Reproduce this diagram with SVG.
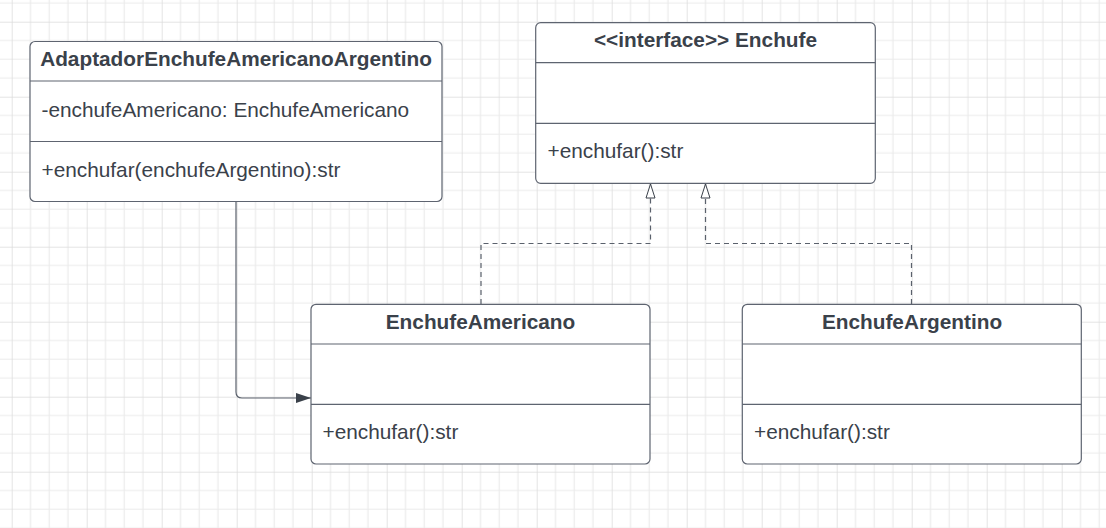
<svg xmlns="http://www.w3.org/2000/svg" width="1106" height="528" viewBox="0 0 1106 528">
<style>
.box{fill:#ffffff;stroke:#5e6470;stroke-width:1.2}
.div{stroke:#5e6470;stroke-width:1.2}
.t{font-family:"Liberation Sans",Arial,sans-serif;font-size:20.8px;fill:#3a414a}
.b{font-weight:bold;text-anchor:middle}
.c{fill:none;stroke:#5a616c;stroke-width:1.2}
.d{stroke-dasharray:5 4}
</style>
<defs>
<pattern id="grid" patternUnits="userSpaceOnUse" x="11.7" y="21.7" width="75" height="75">
<path d="M18.75,0V75M37.5,0V75M56.25,0V75M0,18.75H75M0,37.5H75M0,56.25H75" stroke="#ebebeb" stroke-width="1.2" fill="none"/>
<path d="M0,0V75M0,0H75" stroke="#dcdcdc" stroke-width="1.5" fill="none"/>
</pattern>
<marker id="hollow" markerUnits="userSpaceOnUse" viewBox="-1 -1 16 11" refX="14" refY="4.5" markerWidth="16" markerHeight="11" orient="auto">
<path d="M0,0L14,4.5L0,9Z" fill="#ffffff" stroke="#3a414a" stroke-width="1"/>
</marker>
<marker id="filled" markerUnits="userSpaceOnUse" viewBox="0 0 15 10" refX="15" refY="5" markerWidth="15" markerHeight="10" orient="auto">
<path d="M0,0L15,5L0,10Z" fill="#3a414a"/>
</marker>
</defs>
<rect width="1106" height="528" fill="#ffffff"/>
<rect width="1106" height="528" fill="url(#grid)"/>

<g id="connectors">
<path class="c" d="M236,202V392Q236,398 242,398H311" marker-end="url(#filled)"/>
<path class="c d" d="M481,304V243.5H650.5V184" marker-end="url(#hollow)"/>
<path class="c d" d="M911.5,304V243.5H705.5V184" marker-end="url(#hollow)"/>
</g>

<g id="adaptador">
<rect class="box" x="30" y="41.5" width="412" height="160" rx="5"/>
<line class="div" x1="30" y1="81" x2="442" y2="81"/>
<line class="div" x1="30" y1="141.5" x2="442" y2="141.5"/>
<text class="t b" x="236" y="65.5">AdaptadorEnchufeAmericanoArgentino</text>
<text class="t" x="41.5" y="117">-enchufeAmericano: EnchufeAmericano</text>
<text class="t" x="41.5" y="177">+enchufar(enchufeArgentino):str</text>
</g>

<g id="enchufe">
<rect class="box" x="535.7" y="22.7" width="339.6" height="160.6" rx="5"/>
<line class="div" x1="535.7" y1="62.7" x2="875.3" y2="62.7"/>
<line class="div" x1="535.7" y1="123.3" x2="875.3" y2="123.3"/>
<text class="t b" x="705.5" y="46.5">&lt;&lt;interface&gt;&gt; Enchufe</text>
<text class="t" x="547.5" y="158">+enchufar():str</text>
</g>

<g id="enchufeAmericano">
<rect class="box" x="311" y="304.3" width="339" height="159.7" rx="5"/>
<line class="div" x1="311" y1="344" x2="650" y2="344"/>
<line class="div" x1="311" y1="404.3" x2="650" y2="404.3"/>
<text class="t b" x="480.5" y="329">EnchufeAmericano</text>
<text class="t" x="322.5" y="439">+enchufar():str</text>
</g>

<g id="enchufeArgentino">
<rect class="box" x="742.3" y="304.3" width="339" height="159.7" rx="5"/>
<line class="div" x1="742.3" y1="344" x2="1081.3" y2="344"/>
<line class="div" x1="742.3" y1="404.3" x2="1081.3" y2="404.3"/>
<text class="t b" x="912" y="329">EnchufeArgentino</text>
<text class="t" x="754" y="439">+enchufar():str</text>
</g>
</svg>
